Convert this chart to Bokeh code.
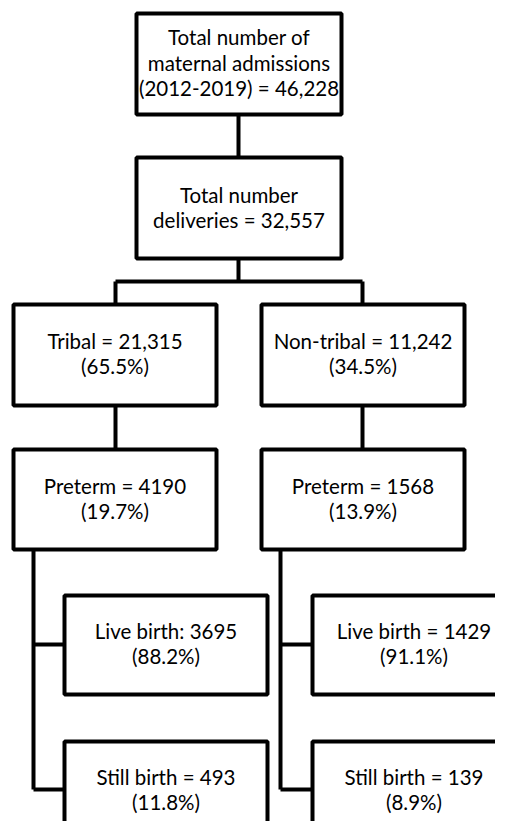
from bokeh.plotting import figure
from bokeh.models import Range1d, ColumnDataSource
from bokeh.core.properties import value
from bokeh.embed import file_html
from bokeh.resources import INLINE

# ---- data: node labels (one entry per box) ----
node_names = ["admissions", "deliveries", "tribal", "nontribal",
              "preterm_t", "preterm_n", "live_t", "live_n", "still_t", "still_n"]
node_lines = [
    ["Total number of", "maternal admissions", "(2012-2019) = 46,228"],
    ["Total number", "deliveries = 32,557"],
    ["Tribal = 21,315", "(65.5%)"],
    ["Non-tribal = 11,242", "(34.5%)"],
    ["Preterm = 4190", "(19.7%)"],
    ["Preterm = 1568", "(13.9%)"],
    ["Live birth: 3695", "(88.2%)"],
    ["Live birth = 1429", "(91.1%)"],
    ["Still birth = 493", "(11.8%)"],
    ["Still birth = 139", "(8.9%)"],
]

# ---- layout (pixel-like coordinates on the page) ----
box_left   = [136, 136, 13, 261, 13, 261, 64, 312, 64, 312]
box_right  = [341, 341, 216, 464, 216, 464, 267, 515, 267, 515]
box_top    = [13, 157, 304, 304, 449, 449, 595, 595, 741, 741]
box_bottom = [114, 258, 405, 405, 549, 549, 694, 694, 842, 842]
text_cy    = [62, 207, 353, 353, 498, 498, 643, 643, 789, 789]

conn_xs = [
    [238, 238], [238, 238], [115, 362], [115, 115], [362, 362],
    [115, 115], [362, 362],
    [33, 33], [33, 64], [33, 64],
    [280, 280], [280, 312], [280, 312],
]
conn_ys = [
    [114, 157], [258, 281], [281, 281], [281, 304], [281, 304],
    [405, 449], [405, 449],
    [549, 789], [644, 644], [789, 789],
    [549, 789], [644, 644], [789, 789],
]

W, H = 495, 821
p = figure(width=W, height=H, output_backend="svg", toolbar_location=None,
           x_range=Range1d(0, W), y_range=Range1d(H, 0),
           min_border=0, outline_line_color=None)
p.axis.visible = False
p.grid.visible = False
p.background_fill_color = "white"
p.border_fill_color = "white"

p.multi_line(xs=conn_xs, ys=conn_ys, line_color="black", line_width=4)

p.quad(left=box_left, right=box_right, top=box_top, bottom=box_bottom,
       fill_color="white", line_color="black", line_width=4)

tx, ty, tt = [], [], []
spacing = 25.5
for i, lines in enumerate(node_lines):
    cx = (box_left[i] + box_right[i]) / 2
    n = len(lines)
    for j, s in enumerate(lines):
        tx.append(cx)
        ty.append(text_cy[i] + (j - (n - 1) / 2) * spacing)
        tt.append(s)

src = ColumnDataSource(dict(x=tx, y=ty, t=tt))
p.text(x="x", y="y", text="t", source=src, text_align="center",
       text_baseline="middle", text_font=value("Lato"),
       text_font_size="20.5px", text_color="black")

open("out.html", "w").write(file_html(p, INLINE))
